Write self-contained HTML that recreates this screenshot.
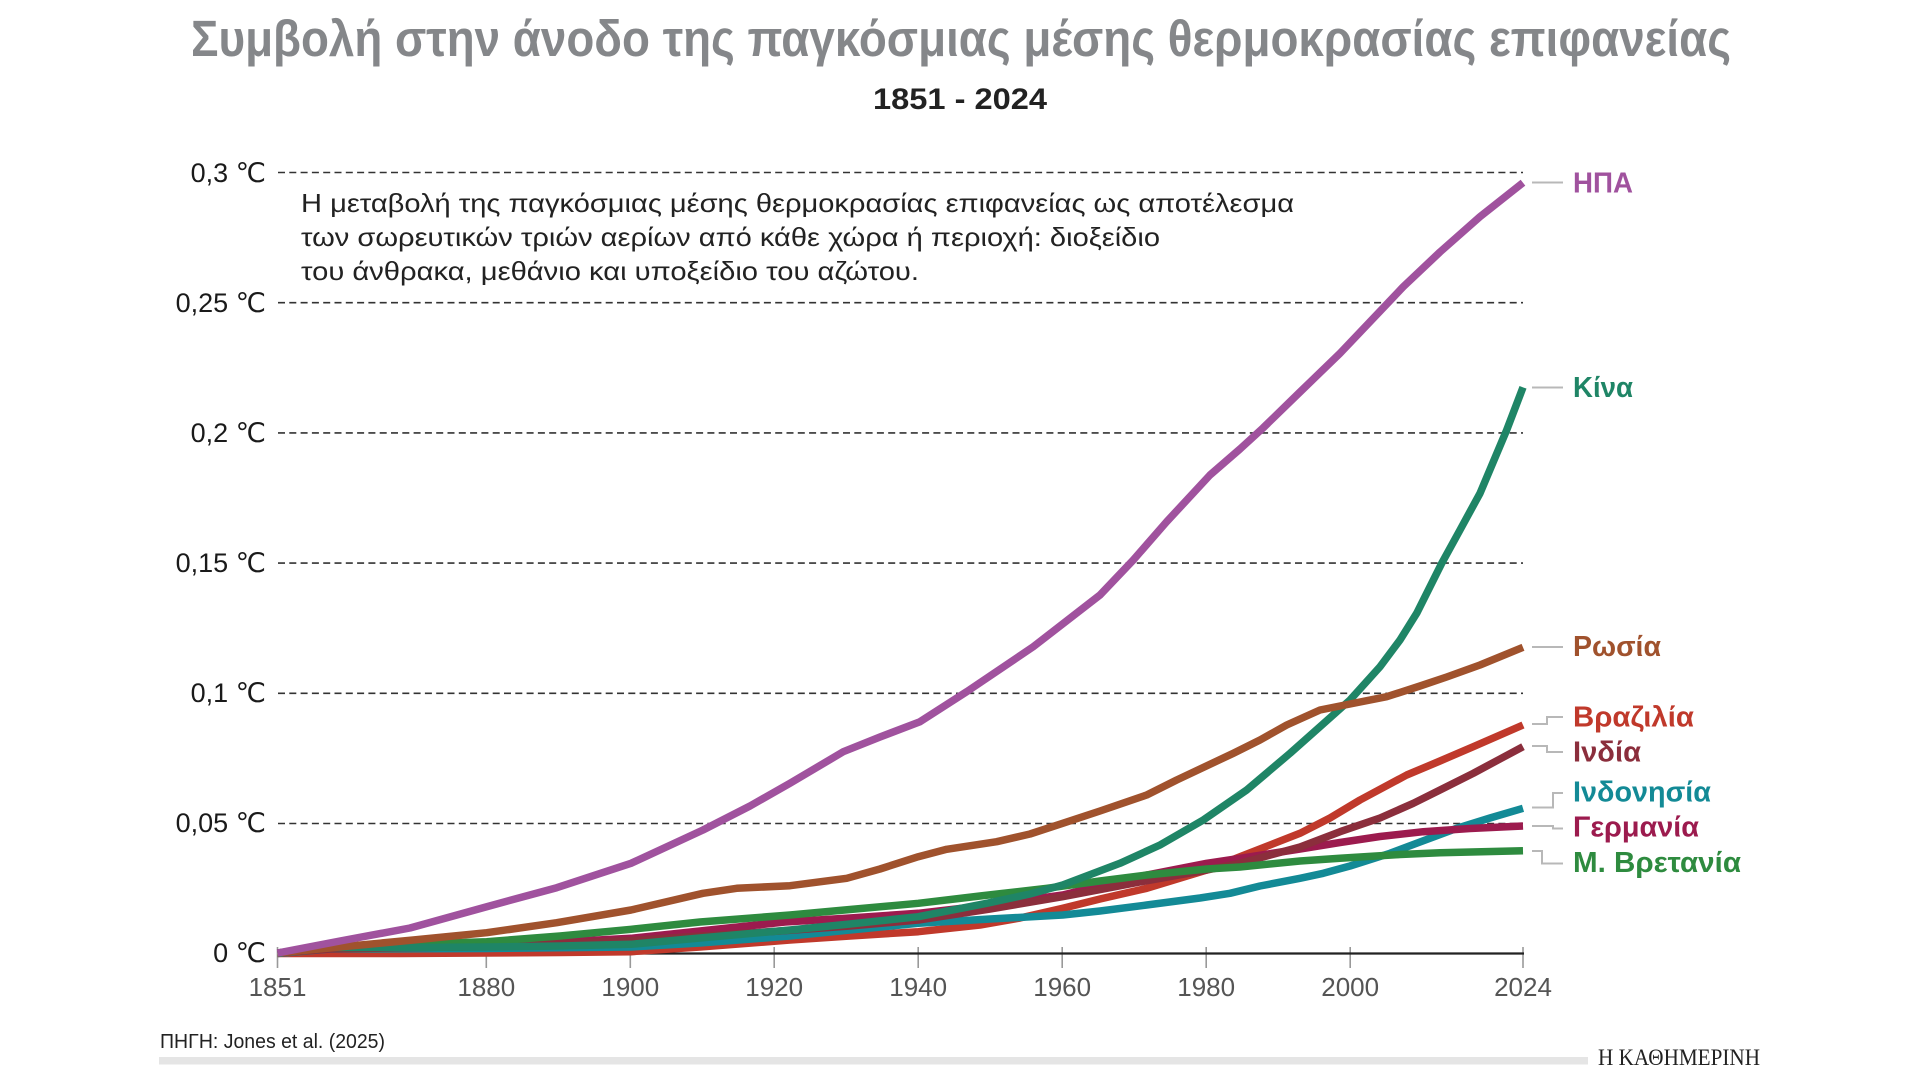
<!DOCTYPE html>
<html>
<head>
<meta charset="utf-8">
<style>
html,body{margin:0;padding:0;background:#fff;}
svg{display:block;}
text{font-family:"Liberation Sans","DejaVu Sans",sans-serif;}
</style>
</head>
<body>
<svg width="1920" height="1080" viewBox="0 0 1920 1080" xmlns="http://www.w3.org/2000/svg">
<rect width="1920" height="1080" fill="#fff"/>

<!-- Title -->
<text x="961" y="56" text-anchor="middle" font-size="51" font-weight="bold" fill="#85878a" textLength="1540" lengthAdjust="spacingAndGlyphs">Συμβολή στην άνοδο της παγκόσμιας μέσης θερμοκρασίας επιφανείας</text>
<text x="960" y="109" text-anchor="middle" font-size="30" font-weight="bold" fill="#222" textLength="174" lengthAdjust="spacingAndGlyphs">1851 - 2024</text>

<!-- Gridlines -->
<g stroke="#333" stroke-width="1.6" stroke-dasharray="7,4.3" fill="none">
<line x1="278" y1="172.5" x2="1523" y2="172.5"/>
<line x1="278" y1="302.7" x2="1523" y2="302.7"/>
<line x1="278" y1="432.9" x2="1523" y2="432.9"/>
<line x1="278" y1="563.1" x2="1523" y2="563.1"/>
<line x1="278" y1="693.3" x2="1523" y2="693.3"/>
<line x1="278" y1="823.5" x2="1523" y2="823.5"/>
</g>

<!-- Y labels -->
<g font-size="27" fill="#1a1a1a" text-anchor="end">
<text x="266" y="182">0,3 ℃</text>
<text x="266" y="312">0,25 ℃</text>
<text x="266" y="442">0,2 ℃</text>
<text x="266" y="572">0,15 ℃</text>
<text x="266" y="702">0,1 ℃</text>
<text x="266" y="832">0,05 ℃</text>
<text x="266" y="962">0 ℃</text>
</g>

<!-- Annotation -->
<g font-size="26" fill="#222">
<text x="301" y="212" textLength="993" lengthAdjust="spacingAndGlyphs">Η μεταβολή της παγκόσμιας μέσης θερμοκρασίας επιφανείας ως αποτέλεσμα</text>
<text x="301" y="246" textLength="859" lengthAdjust="spacingAndGlyphs">των σωρευτικών τριών αερίων από κάθε χώρα ή περιοχή: διοξείδιο</text>
<text x="301" y="280" textLength="618" lengthAdjust="spacingAndGlyphs">του άνθρακα, μεθάνιο και υποξείδιο του αζώτου.</text>
</g>

<!-- Ticks -->
<g stroke="#999" stroke-width="1.6">
<line x1="277.5" y1="947" x2="277.5" y2="968"/>
<line x1="486.3" y1="947" x2="486.3" y2="968"/>
<line x1="630.3" y1="947" x2="630.3" y2="968"/>
<line x1="774.2" y1="947" x2="774.2" y2="968"/>
<line x1="918.2" y1="947" x2="918.2" y2="968"/>
<line x1="1062.2" y1="947" x2="1062.2" y2="968"/>
<line x1="1206.2" y1="947" x2="1206.2" y2="968"/>
<line x1="1350.2" y1="947" x2="1350.2" y2="968"/>
<line x1="1523" y1="947" x2="1523" y2="968"/>
</g>
<!-- Axis -->
<line x1="278" y1="953.5" x2="1524" y2="953.5" stroke="#222" stroke-width="2.2"/>

<!-- X labels -->
<g font-size="26" fill="#555" text-anchor="middle">
<text x="277.5" y="996">1851</text>
<text x="486.3" y="996">1880</text>
<text x="630.3" y="996">1900</text>
<text x="774.2" y="996">1920</text>
<text x="918.2" y="996">1940</text>
<text x="1062.2" y="996">1960</text>
<text x="1206.2" y="996">1980</text>
<text x="1350.2" y="996">2000</text>
<text x="1523" y="996">2024</text>
</g>

<!-- Series -->
<g fill="none" stroke-width="7.5" stroke-linejoin="round" stroke-linecap="butt">
<!-- Brazil -->
<polyline stroke="#c0392b" points="277.5,953.5 400,953.5 486.7,953 560,952.5 631,951.7 700,947 790,940 850,936 918.3,931.7 980,925 1020,918 1062.7,908.3 1100,899 1146.7,888.3 1206.7,870 1240,856.7 1300,833.3 1330,818 1360,800 1406.7,775 1440,761 1473.3,746.7 1523,725"/>
<!-- Indonesia -->
<polyline stroke="#138a96" points="277.5,953.5 330,949 486.7,948.5 631,947 700,943 790,936 850,930 918.3,923.3 990,919 1062.7,915 1100,911 1146.7,905 1200,898 1230,893.3 1260,886 1300,878.3 1323.3,873.3 1350,866 1390,853.3 1420,842 1456.7,828.3 1490,818 1523,808.3"/>
<!-- Germany -->
<polyline stroke="#9c1b4e" points="277.5,953 330,948.5 486.7,945 560,942 631,938.3 700,931 785,922 850,918 918.3,913.3 990,905 1062.7,895 1100,886 1146.7,875 1206.7,863.3 1240,858.3 1300,849 1340,842.5 1380,836.5 1423.3,831.7 1470,828.5 1523,826"/>
<!-- India -->
<polyline stroke="#8b2e3c" points="277.5,953 330,949 486.7,946.5 631,940.5 780,931 850,926 918.3,920 990,909 1062.7,896.7 1140,882 1206.7,870 1240,863.3 1300,847 1340,831.7 1380,818 1413.3,803.3 1440,790 1473.3,773.3 1500,759 1523,746.7"/>
<!-- UK -->
<polyline stroke="#2e8b3f" points="277.5,953 330,947 400,944.5 486.7,941.7 560,936 631,929.3 700,922 790,915 850,909.5 918.3,903.3 980,896 1046.7,888.3 1100,881 1146.7,875 1206.7,869 1240,867 1300,861 1340,858.3 1400,854.5 1440,852.7 1523,850.7"/>
<!-- China -->
<polyline stroke="#1f8566" points="277.5,953 320,947.5 400,947.5 486.7,947 560,946 631,944.3 700,938 790,930 850,924 918.3,916.7 986.7,903.3 1030,894 1062.7,885 1120,863.3 1160,845 1203.3,820 1246.7,790 1290,753.3 1320,726.7 1350,700 1380,666.7 1400,640 1416.7,613.3 1441.7,563.3 1460,530 1480,493.3 1506.7,430 1523,387.3"/>
<!-- Russia -->
<polyline stroke="#a0522d" points="277.5,953 350,946 413.3,940 486.7,932.7 556.7,922.7 631,910 703,893.3 736.7,888.3 790,885.7 846.7,878.3 880,869 918.3,856.7 946.7,849.3 996.7,841.7 1030,834 1062.7,823.3 1100,811 1146.7,795 1176.7,780 1233.3,753.3 1260,740 1286.7,725 1320,710 1350,704 1386.7,696.7 1420,686 1446.7,677 1480,665 1523,647.3"/>
<!-- USA -->
<polyline stroke="#a0529e" points="277.5,953 340,941 410,928 486.7,906.7 556.7,887.7 631,863.3 703,830 750,806 790,783.3 843.3,751.7 880,737 920,721.7 966.7,691.7 1033.3,646.7 1100,595 1133.3,560 1166.7,521.7 1210,475 1240,449 1263,428 1300,392 1340,353.3 1403.3,286.7 1440,252 1480,216.7 1523,182.7"/>
</g>

<!-- Legend connectors -->
<g fill="none" stroke="#b8b8b8" stroke-width="2">
<polyline points="1532,182.5 1563,182.5"/>
<polyline points="1532,387.5 1563,387.5"/>
<polyline points="1532,647 1563,647"/>
<polyline points="1532,724 1547,724 1547,717 1563,717"/>
<polyline points="1532,746 1547,746 1547,752 1563,752"/>
<polyline points="1532,807.5 1553,807.5 1553,793 1563,793"/>
<polyline points="1532,826 1553,826 1553,828.5 1563,828.5"/>
<polyline points="1532,851 1542,851 1542,863.5 1563,863.5"/>
</g>

<!-- Legend labels -->
<g font-size="29" font-weight="bold">
<text x="1573" y="192.5" fill="#a0529e" textLength="60" lengthAdjust="spacingAndGlyphs">ΗΠΑ</text>
<text x="1573" y="397" fill="#1f8566" textLength="60" lengthAdjust="spacingAndGlyphs">Κίνα</text>
<text x="1573" y="656" fill="#a0522d" textLength="88" lengthAdjust="spacingAndGlyphs">Ρωσία</text>
<text x="1573" y="726.5" fill="#c0392b" textLength="121" lengthAdjust="spacingAndGlyphs">Βραζιλία</text>
<text x="1573" y="761.5" fill="#8b2e3c" textLength="68" lengthAdjust="spacingAndGlyphs">Ινδία</text>
<text x="1573" y="801.5" fill="#138a96" textLength="138" lengthAdjust="spacingAndGlyphs">Ινδονησία</text>
<text x="1573" y="836.5" fill="#9c1b4e" textLength="126" lengthAdjust="spacingAndGlyphs">Γερμανία</text>
<text x="1573" y="872" fill="#2e8b3f" textLength="168" lengthAdjust="spacingAndGlyphs">Μ. Βρετανία</text>
</g>

<!-- Footer -->
<text x="160" y="1048" font-size="20" fill="#222" textLength="225" lengthAdjust="spacingAndGlyphs">ΠΗΓΗ: Jones et al. (2025)</text>
<rect x="159" y="1057" width="1429" height="7.5" fill="#e5e5e5"/>
<text x="1598" y="1065" font-size="23" fill="#222" style="font-family:'Liberation Serif','DejaVu Serif',serif" textLength="162" lengthAdjust="spacingAndGlyphs">Η ΚΑΘΗΜΕΡΙΝΗ</text>
</svg>
</body>
</html>
